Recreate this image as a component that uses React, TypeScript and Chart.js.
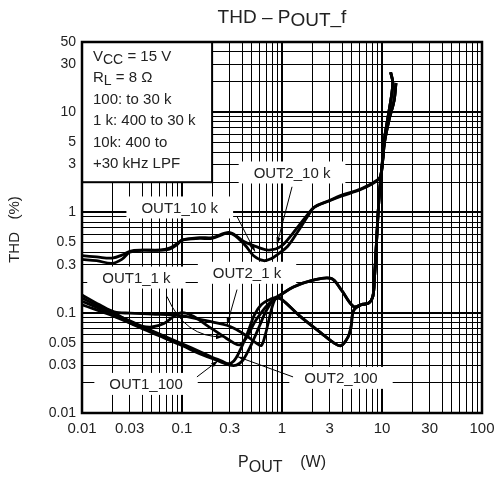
import React, { useEffect, useRef } from 'react';
import { Chart, registerables } from 'chart.js';

Chart.register(...registerables);

const FONT = "'Liberation Sans', Arial, Helvetica, sans-serif";

// ---------- axes / ticks ----------
const X_GRID = [0.01, 0.02, 0.03, 0.04, 0.05, 0.06, 0.07, 0.08, 0.09, 0.1, 0.2, 0.3, 0.4, 0.5, 0.6, 0.7, 0.8, 0.9, 1, 2, 3, 4, 5, 6, 7, 8, 9, 10, 20, 30, 40, 50, 60, 70, 80, 90, 100];
const Y_GRID = [0.01, 0.02, 0.03, 0.04, 0.05, 0.06, 0.07, 0.08, 0.09, 0.1, 0.2, 0.3, 0.4, 0.5, 0.6, 0.7, 0.8, 0.9, 1, 2, 3, 4, 5, 6, 7, 8, 9, 10, 20, 30, 40, 50];
const X_TICK_LABELS = [0.01, 0.03, 0.1, 0.3, 1, 3, 10, 30, 100];
const Y_TICK_LABELS = [0.01, 0.03, 0.05, 0.1, 0.3, 0.5, 1, 3, 5, 10, 30, 50];
const DECADES = [0.01, 0.1, 1, 10, 100];

// ---------- series (Pout [W], THD [%]) ----------
const OUT1_10K: [number, number][] = [
  [0.01, 0.37], [0.014, 0.36], [0.02, 0.35], [0.026, 0.38], [0.03, 0.41], [0.04, 0.42], [0.06, 0.42], [0.075, 0.44],
  [0.09, 0.49], [0.1, 0.53], [0.15, 0.55], [0.2, 0.55], [0.3, 0.62], [0.42, 0.48], [0.52, 0.37], [0.66, 0.33],
  [0.8, 0.35], [0.9, 0.38], [1.14, 0.46], [1.45, 0.65], [1.8, 0.91], [2.1, 1.12], [2.9, 1.29], [3.9, 1.45],
  [6.2, 1.7], [9.1, 2.1], [9.8, 2.4], [10.2, 3.6], [10.6, 5.5], [11.5, 9], [12.5, 15], [12.8, 20], [12.2, 25],
];
const OUT2_10K: [number, number][] = [
  [0.01, 0.34], [0.014, 0.33], [0.02, 0.31], [0.025, 0.34], [0.03, 0.4], [0.04, 0.42], [0.06, 0.42], [0.075, 0.43],
  [0.09, 0.48], [0.1, 0.53], [0.15, 0.56], [0.2, 0.56], [0.3, 0.63], [0.42, 0.51], [0.57, 0.45], [0.74, 0.42],
  [0.98, 0.46], [1.3, 0.63], [1.8, 0.95], [2.1, 1.13], [2.9, 1.3], [3.9, 1.48], [6.2, 1.72], [9.1, 2.12],
  [9.8, 2.4], [10.2, 3.4], [10.6, 5], [11.8, 8.5], [13.2, 13], [13.8, 19.5],
];
const OUT1_1K: [number, number][] = [
  [0.01, 0.14], [0.015, 0.115], [0.021, 0.1], [0.025, 0.09], [0.031, 0.078], [0.04, 0.073], [0.05, 0.072],
  [0.066, 0.078], [0.083, 0.092], [0.1, 0.1], [0.13, 0.092], [0.18, 0.074], [0.26, 0.058], [0.33, 0.05],
  [0.38, 0.048], [0.45, 0.058], [0.53, 0.08], [0.62, 0.1], [0.72, 0.12], [0.85, 0.137], [1.3, 0.18], [2, 0.21],
  [3.1, 0.22], [3.9, 0.17], [5.2, 0.115], [6.2, 0.12], [7.4, 0.125], [8.1, 0.145], [8.4, 0.22], [8.7, 0.4],
  [9.3, 1.3], [9.8, 2.4], [10.2, 3.6], [10.6, 5.5], [11.5, 9], [12.5, 15], [12.8, 20], [12.2, 25],
];
const OUT2_1K: [number, number][] = [
  [0.01, 0.15], [0.015, 0.12], [0.021, 0.102], [0.03, 0.099], [0.05, 0.097], [0.1, 0.093], [0.15, 0.086],
  [0.2, 0.081], [0.28, 0.075], [0.35, 0.068], [0.45, 0.058], [0.55, 0.05], [0.62, 0.047], [0.68, 0.06],
  [0.75, 0.09], [0.82, 0.125], [0.88, 0.14], [1, 0.135], [1.5, 0.093], [2.45, 0.063], [3.3, 0.05], [3.9, 0.047],
  [4.6, 0.058], [4.9, 0.072], [5.2, 0.105], [6.2, 0.12], [7.4, 0.125], [8.1, 0.145], [8.4, 0.22], [8.7, 0.4],
  [9.3, 1.3], [9.8, 2.4], [10.2, 3.4], [10.6, 5], [11.8, 8.5], [13.2, 13], [13.8, 19.5],
];
const OUT1_100: [number, number][] = [
  [0.01, 0.13], [0.021, 0.096], [0.03, 0.083], [0.05, 0.066], [0.1, 0.049], [0.15, 0.041], [0.2, 0.036],
  [0.25, 0.033], [0.29, 0.031], [0.33, 0.033], [0.38, 0.042], [0.45, 0.062], [0.53, 0.095], [0.62, 0.12],
  [0.75, 0.135], [0.9, 0.145], [1.3, 0.18], [2, 0.21], [3.1, 0.22], [3.9, 0.17], [5.2, 0.115], [6.2, 0.12],
  [7.4, 0.125], [8.1, 0.145], [8.4, 0.22], [8.7, 0.4], [9.3, 1.3], [9.8, 2.4], [10.2, 3.6], [10.6, 5.5],
  [11.5, 9], [12.5, 15], [12.8, 20], [12.2, 25],
];
const OUT2_100: [number, number][] = [
  [0.01, 0.12], [0.021, 0.092], [0.03, 0.079], [0.05, 0.063], [0.1, 0.047], [0.15, 0.039], [0.2, 0.035],
  [0.25, 0.032], [0.3, 0.03], [0.35, 0.03], [0.4, 0.033], [0.45, 0.04], [0.52, 0.054], [0.6, 0.075],
  [0.68, 0.1], [0.8, 0.13], [0.9, 0.14], [1, 0.135], [1.5, 0.093], [2.45, 0.063], [3.3, 0.05], [3.9, 0.047],
  [4.6, 0.058], [4.9, 0.072], [5.2, 0.105], [6.2, 0.12], [7.4, 0.125], [8.1, 0.145], [8.4, 0.22], [8.7, 0.4],
  [9.3, 1.3], [9.8, 2.4], [10.2, 3.4], [10.6, 5], [11.8, 8.5], [13.2, 13], [13.8, 19.5],
];

const SERIES_NAMES = ['OUT1_10 k', 'OUT2_10 k', 'OUT1_1 k', 'OUT2_1 k', 'OUT1_100', 'OUT2_100'];
const SERIES = [OUT1_10K, OUT2_10K, OUT1_1K, OUT2_1K, OUT1_100, OUT2_100];

// ---------- annotations (data coordinates) ----------
const LABEL_POS: [number, number][] = [
  [0.095, 1.12],  // OUT1_10 k
  [1.26, 2.5],    // OUT2_10 k
  [0.035, 0.224], // OUT1_1 k
  [0.447, 0.25],  // OUT2_1 k
  [0.0437, 0.0195], // OUT1_100
  [3.89, 0.0224], // OUT2_100
];
type Leader = { from: [number, number]; via?: [number, number]; to: [number, number] };
const LEADERS: Leader[] = [
  { from: [0.355, 0.91], to: [0.537, 0.407] },
  { from: [1.26, 1.8], to: [0.89, 0.48] },
  { from: [0.0708, 0.145], via: [0.107, 0.056], to: [0.257, 0.0575] },
  { from: [0.355, 0.17], to: [0.282, 0.076] },
  { from: [0.141, 0.0229], to: [0.229, 0.0331] },
  { from: [1.29, 0.0229], to: [0.363, 0.0363] },
];
const CONDITION_BOX_CORNER: [number, number] = [0.2, 2];
const CONDITION_LINES: [string, boolean][][] = [
  [['V', false], ['CC', true], [' = 15 V', false]],
  [['R', false], ['L', true], [' = 8 Ω', false]],
  [['100: to 30 k', false]],
  [['1 k: 400 to 30 k', false]],
  [['10k: 400 to', false]],
  [['+30 kHz LPF', false]],
];
const TITLE_PARTS: [string, boolean][] = [['THD – P', false], ['OUT', true], ['_f', false]];
const X_TITLE_PARTS: [string, boolean][] = [['P', false], ['OUT', true], ['    (W)', false]];
const Y_TITLE = 'THD   (%)';

function drawParts(ctx: CanvasRenderingContext2D, parts: [string, boolean][], x: number, y: number, size: number, subSize: number, drop: number, align: 'left' | 'center') {
  const widths = parts.map(([t, sub]) => {
    ctx.font = `${sub ? subSize : size}px ${FONT}`;
    return ctx.measureText(t).width;
  });
  const total = widths.reduce((a, b) => a + b, 0);
  let cx = align === 'center' ? x - total / 2 : x;
  ctx.textAlign = 'left';
  ctx.textBaseline = 'alphabetic';
  parts.forEach(([t, sub], i) => {
    ctx.font = `${sub ? subSize : size}px ${FONT}`;
    ctx.fillText(t, cx, y + (sub ? drop : 0));
    cx += widths[i];
  });
}

function arrowHead(ctx: CanvasRenderingContext2D, fx: number, fy: number, tx: number, ty: number) {
  const ang = Math.atan2(ty - fy, tx - fx);
  const len = 7, hw = 2.3;
  ctx.beginPath();
  ctx.moveTo(tx, ty);
  ctx.lineTo(tx - len * Math.cos(ang) + hw * Math.sin(ang), ty - len * Math.sin(ang) - hw * Math.cos(ang));
  ctx.lineTo(tx - len * Math.cos(ang) - hw * Math.sin(ang), ty - len * Math.sin(ang) + hw * Math.cos(ang));
  ctx.closePath();
  ctx.fill();
}

const overlay = {
  id: 'overlay',
  beforeDatasetsDraw(chart: any) {
    const { ctx, chartArea: a, scales } = chart;
    const x = scales.x, y = scales.y;
    ctx.save();
    ctx.font = `15px ${FONT}`;
    ctx.fillStyle = '#fff';
    SERIES_NAMES.forEach((t, i) => {
      const px = x.getPixelForValue(LABEL_POS[i][0]);
      const py = y.getPixelForValue(LABEL_POS[i][1]);
      const w = ctx.measureText(t).width + 30;
      ctx.fillRect(px - w / 2, py - 11, w, 22);
    });
    const bx = x.getPixelForValue(CONDITION_BOX_CORNER[0]);
    const by = y.getPixelForValue(CONDITION_BOX_CORNER[1]);
    ctx.fillRect(a.left, a.top, bx - a.left, by - a.top);
    ctx.restore();
  },
  afterDatasetsDraw(chart: any) {
    const { ctx, chartArea: a, scales } = chart;
    const x = scales.x, y = scales.y;
    const P = (p: [number, number]) => [x.getPixelForValue(p[0]), y.getPixelForValue(p[1])];
    ctx.save();
    // leader lines
    ctx.strokeStyle = '#000';
    ctx.fillStyle = '#000';
    ctx.lineWidth = 1;
    LEADERS.forEach((l) => {
      const [fx, fy] = P(l.from);
      const [tx, ty] = P(l.to);
      ctx.beginPath();
      ctx.moveTo(fx, fy);
      let sx = fx, sy = fy;
      if (l.via) {
        const [vx, vy] = P(l.via);
        ctx.quadraticCurveTo(vx, vy, tx, ty);
        sx = vx; sy = vy;
      } else {
        ctx.lineTo(tx, ty);
      }
      ctx.stroke();
      arrowHead(ctx, sx, sy, tx, ty);
    });
    // labels
    ctx.fillStyle = '#222';
    ctx.font = `15px ${FONT}`;
    ctx.textAlign = 'center';
    ctx.textBaseline = 'middle';
    SERIES_NAMES.forEach((t, i) => {
      const [px, py] = P(LABEL_POS[i]);
      ctx.fillText(t, px, py + 1);
    });
    // condition box
    const [bx, by] = P(CONDITION_BOX_CORNER);
    ctx.strokeStyle = '#000';
    ctx.lineWidth = 2;
    ctx.strokeRect(a.left, a.top, bx - a.left, by - a.top);
    ctx.fillStyle = '#222';
    CONDITION_LINES.forEach((parts, i) => {
      drawParts(ctx, parts, a.left + 11, a.top + 19 + i * 21.4, 15, 14, 3, 'left');
    });
    // frame
    ctx.strokeStyle = '#000';
    ctx.lineWidth = 2.5;
    ctx.strokeRect(a.left, a.top, a.right - a.left, a.bottom - a.top);
    ctx.restore();
  },
  afterDraw(chart: any) {
    const { ctx, chartArea: a } = chart;
    ctx.save();
    ctx.fillStyle = '#222';
    const cx = (a.left + a.right) / 2;
    drawParts(ctx, TITLE_PARTS, cx, 23, 19, 19, 3, 'center');
    drawParts(ctx, X_TITLE_PARTS, cx, 467, 16, 16, 5, 'center');
    ctx.translate(15, (a.top + a.bottom) / 2 + 2);
    ctx.rotate(-Math.PI / 2);
    ctx.font = `15px ${FONT}`;
    ctx.textAlign = 'center';
    ctx.textBaseline = 'middle';
    ctx.fillText(Y_TITLE, 0, 0);
    ctx.restore();
  },
};

export default function App() {
  const ref = useRef<HTMLCanvasElement>(null);
  useEffect(() => {
    const gridWidth = (ctx: any) => (DECADES.includes(ctx.tick && ctx.tick.value) ? 2 : 1);
    const chart = new Chart(ref.current as HTMLCanvasElement, {
      type: 'scatter',
      data: {
        datasets: SERIES.map((s, i) => ({
          label: SERIES_NAMES[i],
          data: s.map(([px, py]) => ({ x: px, y: py })),
          showLine: true,
          borderColor: '#000',
          backgroundColor: '#000',
          borderWidth: 2.8,
          pointRadius: 0,
          tension: 0.35,
          fill: false,
        })),
      },
      options: {
        responsive: false,
        animation: false,
        events: [],
        layout: { padding: { top: 42, right: 12, left: 0, bottom: 0 } },
        plugins: { legend: { display: false }, tooltip: { enabled: false }, title: { display: false } },
        scales: {
          x: {
            type: 'logarithmic',
            min: 0.01,
            max: 100,
            afterBuildTicks: (s: any) => { s.ticks = X_GRID.map((v) => ({ value: v })); },
            afterFit: (s: any) => { s.height = 67; s.paddingLeft = 0; s.paddingRight = 0; },
            ticks: {
              autoSkip: false,
              maxRotation: 0,
              padding: 7,
              color: '#222',
              font: { family: FONT, size: 15 },
              callback: (v: any) => (X_TICK_LABELS.includes(Number(v)) ? String(v) : ''),
            },
            grid: { color: '#000', lineWidth: gridWidth, drawTicks: false },
            border: { display: false },
          },
          y: {
            type: 'logarithmic',
            min: 0.01,
            max: 50,
            afterBuildTicks: (s: any) => { s.ticks = Y_GRID.map((v) => ({ value: v })); },
            afterFit: (s: any) => { s.width = 82; s.paddingTop = 0; s.paddingBottom = 0; },
            ticks: {
              autoSkip: false,
              padding: 6,
              color: '#222',
              font: { family: FONT, size: 14 },
              callback: (v: any) => (Y_TICK_LABELS.includes(Number(v)) ? String(v) : ''),
            },
            grid: { color: '#000', lineWidth: gridWidth, drawTicks: false },
            border: { display: false },
          },
        },
      },
      plugins: [overlay],
    } as any);
    return () => chart.destroy();
  }, []);
  return (
    <div style={{ position: 'fixed', left: 0, top: 0, width: 494, height: 480, background: '#fff' }}>
      <canvas ref={ref} width={494} height={480} style={{ width: 494, height: 480, display: 'block' }} />
    </div>
  );
}
